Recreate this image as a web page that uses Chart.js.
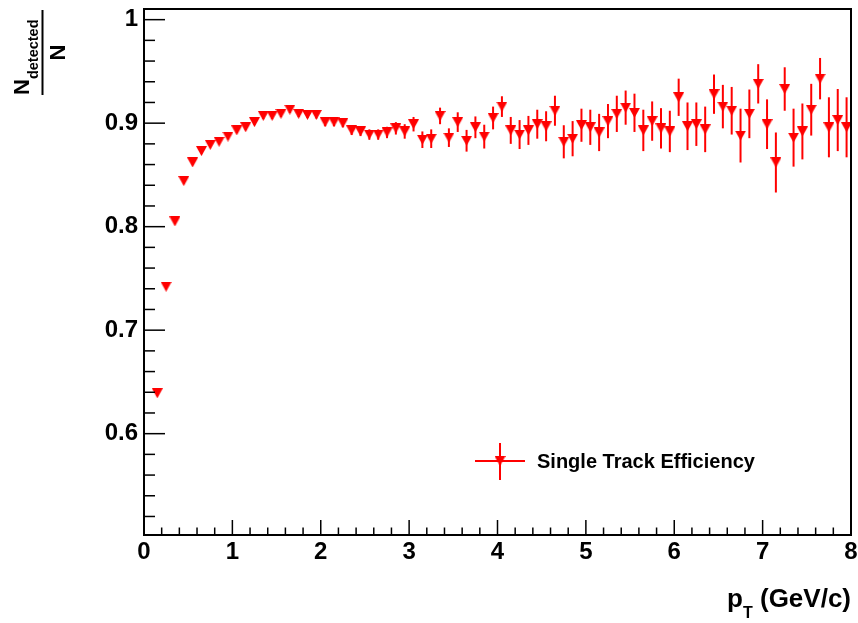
<!DOCTYPE html>
<html>
<head>
<meta charset="utf-8">
<script src="https://cdn.jsdelivr.net/npm/chart.js@4/dist/chart.umd.min.js"></script>
<style>
  html, body { margin: 0; padding: 0; background: #ffffff; }
  #wrap { position: relative; width: 858px; height: 623px; }
</style>
</head>
<body>
<div id="wrap"><canvas id="c" width="858" height="623"></canvas></div>
<script>
// Bin centres in pT (GeV/c)
const pT = [
  0.15, 0.25, 0.35, 0.45, 0.55, 0.65, 0.75, 0.85, 0.95,
  1.05, 1.15, 1.25, 1.35, 1.45, 1.55, 1.65, 1.75, 1.85, 1.95,
  2.05, 2.15, 2.25, 2.35, 2.45, 2.55, 2.65, 2.75, 2.85, 2.95,
  3.05, 3.15, 3.25, 3.35, 3.45, 3.55, 3.65, 3.75, 3.85, 3.95,
  4.05, 4.15, 4.25, 4.35, 4.45, 4.55, 4.65, 4.75, 4.85, 4.95,
  5.05, 5.15, 5.25, 5.35, 5.45, 5.55, 5.65, 5.75, 5.85, 5.95,
  6.05, 6.15, 6.25, 6.35, 6.45, 6.55, 6.65, 6.75, 6.85, 6.95,
  7.05, 7.15, 7.25, 7.35, 7.45, 7.55, 7.65, 7.75, 7.85, 7.95
];

// Single track efficiency N_detected / N per bin
const efficiency = [
  0.639, 0.742, 0.805, 0.844, 0.862, 0.873, 0.879, 0.882, 0.887,
  0.893, 0.896, 0.901, 0.907, 0.907, 0.909, 0.913, 0.909, 0.908, 0.908,
  0.901, 0.901, 0.900, 0.893, 0.892, 0.889, 0.889, 0.891, 0.895, 0.892,
  0.899, 0.884, 0.885, 0.907, 0.886, 0.901, 0.883, 0.896, 0.887, 0.905,
  0.916, 0.893, 0.889, 0.893, 0.899, 0.897, 0.912, 0.882, 0.885, 0.898,
  0.896, 0.891, 0.902, 0.909, 0.915, 0.910, 0.893, 0.902, 0.895, 0.892,
  0.925, 0.897, 0.899, 0.894, 0.928, 0.916, 0.912, 0.888, 0.909, 0.938,
  0.899, 0.862, 0.933, 0.886, 0.892, 0.913, 0.943, 0.896, 0.903, 0.896
];

// Statistical uncertainty per bin
const efficiencyError = [
  0.002, 0.002, 0.002, 0.002, 0.002, 0.002, 0.002, 0.002, 0.002,
  0.0025, 0.0025, 0.0025, 0.003, 0.003, 0.003, 0.003, 0.003, 0.003, 0.0035,
  0.004, 0.004, 0.004, 0.0045, 0.0045, 0.005, 0.005, 0.0055, 0.006, 0.007,
  0.007, 0.008, 0.009, 0.008, 0.009, 0.0095, 0.0105, 0.0105, 0.0115, 0.011,
  0.010, 0.013, 0.014, 0.014, 0.014, 0.0145, 0.0145, 0.016, 0.017, 0.016,
  0.017, 0.018, 0.0165, 0.0175, 0.0165, 0.0185, 0.020, 0.019, 0.0195, 0.020,
  0.018, 0.023, 0.021, 0.022, 0.019, 0.021, 0.023, 0.026, 0.0235, 0.019,
  0.024, 0.029, 0.021, 0.028, 0.027, 0.025, 0.020, 0.029, 0.030, 0.029
];

const xTickValues = [0, 1, 2, 3, 4, 5, 6, 7, 8];
const yTickValues = [0.6, 0.7, 0.8, 0.9, 1.0];
const seriesLabel = 'Single Track Efficiency';

const FONT = '"Liberation Sans", Arial, Helvetica, sans-serif';
const RED = '#ff0000';

// Downward triangle, centred on its bounding box
function makeMarker(w, h, color) {
  const c = document.createElement('canvas');
  c.width = w; c.height = h;
  const g = c.getContext('2d');
  g.fillStyle = color;
  g.beginPath();
  g.moveTo(0, 0);
  g.lineTo(w, 0);
  g.lineTo(w / 2, h);
  g.closePath();
  g.fill();
  return c;
}
const marker = makeMarker(11, 10, RED);

// Vertical error bars through each point
const errorBars = {
  id: 'errorBars',
  beforeDatasetsDraw(chart) {
    const { ctx, scales: { x, y }, chartArea } = chart;
    ctx.save();
    ctx.beginPath();
    ctx.rect(chartArea.left, chartArea.top, chartArea.right - chartArea.left, chartArea.bottom - chartArea.top);
    ctx.clip();
    ctx.strokeStyle = RED;
    ctx.lineWidth = 2;
    for (let i = 0; i < pT.length; i++) {
      const px = x.getPixelForValue(pT[i]);
      const y1 = y.getPixelForValue(efficiency[i] - efficiencyError[i]);
      const y2 = y.getPixelForValue(efficiency[i] + efficiencyError[i]);
      ctx.beginPath();
      ctx.moveTo(px, y1);
      ctx.lineTo(px, y2);
      ctx.stroke();
    }
    ctx.restore();
  }
};

// Frame, inward tick marks, axis titles and legend
const frameAndText = {
  id: 'frameAndText',
  afterDraw(chart) {
    const { ctx, scales: { x, y }, chartArea: a } = chart;
    ctx.save();
    ctx.strokeStyle = '#000';

    // ticks
    ctx.lineWidth = 1.5;
    const line = (x1, y1, x2, y2) => { ctx.beginPath(); ctx.moveTo(x1, y1); ctx.lineTo(x2, y2); ctx.stroke(); };
    const yMinorStep = 0.02;
    for (let k = Math.ceil(y.min / yMinorStep); k * yMinorStep <= y.max; k++) {
      const v = +(k * yMinorStep).toFixed(3);
      const py = y.getPixelForValue(v);
      const major = yTickValues.some(t => Math.abs(t - v) < 1e-6);
      line(a.left, py, a.left + (major ? 21 : 11), py);
    }
    const xMinorStep = 0.2;
    for (let k = 0; k * xMinorStep <= x.max + 1e-9; k++) {
      const v = +(k * xMinorStep).toFixed(3);
      const px = x.getPixelForValue(v);
      const major = xTickValues.some(t => Math.abs(t - v) < 1e-6);
      line(px, a.bottom, px, a.bottom - (major ? 15 : 7.5));
    }

    // frame
    ctx.lineWidth = 2;
    ctx.strokeRect(a.left, a.top, a.right - a.left, a.bottom - a.top);

    ctx.fillStyle = '#000';
    ctx.textBaseline = 'alphabetic';

    // x title: p_T (GeV/c), right aligned to the frame
    const big = 'bold 26px ' + FONT, small = 'bold 16px ' + FONT;
    const rest = ' (GeV/c)';
    ctx.font = big;
    const restW = ctx.measureText(rest).width;
    const pW = ctx.measureText('p').width;
    ctx.font = small;
    const subW = ctx.measureText('T').width;
    const baseX = 607;
    const cx = a.right - restW - subW - pW;
    ctx.textAlign = 'left';
    ctx.font = big;
    ctx.fillText('p', cx, baseX);
    ctx.font = small;
    ctx.fillText('T', cx + pW, baseX + 11);
    ctx.font = big;
    ctx.fillText(rest, cx + pW + subW, baseX);

    // y title: N_detected / N, rotated
    ctx.save();
    ctx.rotate(-Math.PI / 2);
    // text frame (u, v) -> screen (v, -u)
    ctx.font = 'bold 22px ' + FONT;
    const nW = ctx.measureText('N').width;
    ctx.textAlign = 'left';
    ctx.fillText('N', -95, 28.5);
    ctx.font = 'bold 14.5px ' + FONT;
    ctx.fillText('detected', -95 + nW, 38);
    ctx.lineWidth = 2;
    ctx.beginPath();
    ctx.moveTo(-95, 42.5);
    ctx.lineTo(-10, 42.5);
    ctx.stroke();
    ctx.font = 'bold 22px ' + FONT;
    ctx.textAlign = 'center';
    ctx.fillText('N', -52.5, 65);
    ctx.restore();

    // legend
    const lx = a.left + 356, ly = a.top + 452;
    ctx.strokeStyle = RED;
    ctx.lineWidth = 2;
    line(lx - 25, ly, lx + 25, ly);
    line(lx, ly - 18, lx, ly + 19);
    ctx.drawImage(marker, lx - marker.width / 2, ly - marker.height / 2);
    ctx.fillStyle = '#000';
    ctx.font = 'bold 20px ' + FONT;
    ctx.textAlign = 'left';
    ctx.textBaseline = 'middle';
    ctx.fillText(chart.data.datasets[0].label, lx + 37, ly + 1);

    ctx.restore();
  }
};

const points = pT.map((v, i) => ({ x: v, y: efficiency[i] }));

new Chart(document.getElementById('c'), {
  type: 'scatter',
  data: {
    datasets: [{
      label: seriesLabel,
      data: points,
      pointStyle: marker,
      pointRadius: 5,
      pointHoverRadius: 5,
      showLine: false,
      backgroundColor: RED,
      borderColor: RED
    }]
  },
  options: {
    responsive: false,
    animation: false,
    events: [],
    layout: { padding: { top: 9, right: 7, left: 0, bottom: 0 } },
    plugins: { legend: { display: false }, tooltip: { enabled: false } },
    scales: {
      x: {
        type: 'linear',
        position: 'bottom',
        min: 0,
        max: 8,
        afterBuildTicks: s => { s.ticks = xTickValues.map(v => ({ value: v })); },
        afterFit: s => { s.height = 88; s.paddingLeft = 0; s.paddingRight = 0; },
        grid: { display: false, drawTicks: false },
        border: { display: false },
        ticks: {
          color: '#000',
          font: { family: FONT, size: 24, weight: 'bold' },
          padding: 3,
          maxRotation: 0,
          autoSkip: false,
          callback: v => String(Number(v.toFixed(1)))
        }
      },
      y: {
        type: 'linear',
        min: 0.5021,
        max: 1.0103,
        afterBuildTicks: s => { s.ticks = yTickValues.map(v => ({ value: v })); },
        afterFit: s => { s.width = 144; s.paddingTop = 0; s.paddingBottom = 0; },
        grid: { display: false, drawTicks: false },
        border: { display: false },
        ticks: {
          color: '#000',
          font: { family: FONT, size: 24, weight: 'bold' },
          padding: 6,
          autoSkip: false,
          callback: v => String(Number(v.toFixed(1)))
        }
      }
    }
  },
  plugins: [errorBars, frameAndText]
});
</script>
</body>
</html>
